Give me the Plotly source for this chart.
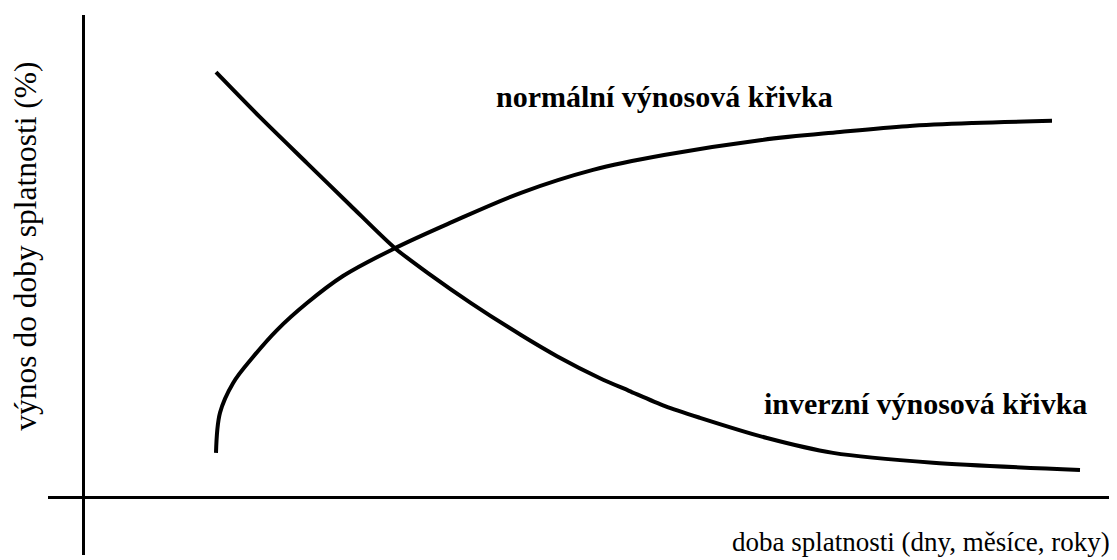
import plotly.graph_objects as go

# maturity (arbitrary units) and yield (arbitrary units)
normal_x = [13.3, 13.7, 15.0, 17.0, 19.4, 22.4, 26.0, 31.2,
            36.7, 43.8, 51.0, 58.1, 67.7, 75.7, 82.4, 89.0, 96.9]
normal_y = [0.98, 1.87, 2.53, 3.11, 3.71, 4.31, 4.91, 5.53,
            6.09, 6.76, 7.27, 7.60, 7.93, 8.11, 8.24, 8.31, 8.36]

inverse_x = [13.3, 17.7, 22.4, 26.7, 31.2, 34.6, 38.8, 43.8, 47.4, 51.7, 54.6, 58.2, 61.7,
             68.4, 75.0, 85.0, 99.7]
inverse_y = [9.44, 8.44, 7.42, 6.49, 5.53, 4.96, 4.31, 3.60, 3.13, 2.64, 2.36, 2.02, 1.76,
             1.31, 0.98, 0.76, 0.60]

normal_label = "normální výnosová křivka"
inverse_label = "inverzní výnosová křivka"
x_title = "doba splatnosti (dny, měsíce, roky)"
y_title = "výnos do doby splatnosti (%)"

FONT = "Liberation Serif, Times New Roman, serif"

fig = go.Figure()
fig.add_trace(go.Scatter(x=normal_x, y=normal_y, mode="lines",
                         line=dict(color="black", width=4, shape="spline", smoothing=1.0),
                         hoverinfo="skip", showlegend=False))
fig.add_trace(go.Scatter(x=inverse_x, y=inverse_y, mode="lines",
                         line=dict(color="black", width=4, shape="spline", smoothing=0.8),
                         hoverinfo="skip", showlegend=False))

fig.add_annotation(x=41.1, y=8.90, text="<b>" + normal_label + "</b>", showarrow=False,
                   xanchor="left", yanchor="middle", font=dict(family=FONT, size=30, color="black"))
fig.add_annotation(x=67.9, y=2.07, text="<b>" + inverse_label + "</b>", showarrow=False,
                   xanchor="left", yanchor="middle", font=dict(family=FONT, size=30, color="black"))
fig.add_annotation(x=0.995, xref="paper", y=-0.99, yref="y", text=x_title, showarrow=False,
                   xanchor="right", yanchor="middle", font=dict(family=FONT, size=27, color="black"))
fig.add_annotation(x=-0.0205, xref="paper", y=0.571, yref="paper", text=y_title, showarrow=False,
                   textangle=-90, xanchor="center", yanchor="middle",
                   font=dict(family=FONT, size=31.5, color="black"))

fig.update_xaxes(range=[-3.5, 103.4], showgrid=False, showticklabels=False, ticks="",
                 zeroline=True, zerolinecolor="black", zerolinewidth=2.5, showline=False)
fig.update_yaxes(range=[-1.289, 10.711], showgrid=False, showticklabels=False, ticks="",
                 zeroline=True, zerolinecolor="black", zerolinewidth=2.5, showline=False)

# page body has an 8px margin, so the figure is 8px smaller than the window
fig.update_layout(width=1109, height=552, margin=dict(l=40, r=0, t=7, b=5),
                  plot_bgcolor="white", paper_bgcolor="white")

fig.write_html("out.html")
